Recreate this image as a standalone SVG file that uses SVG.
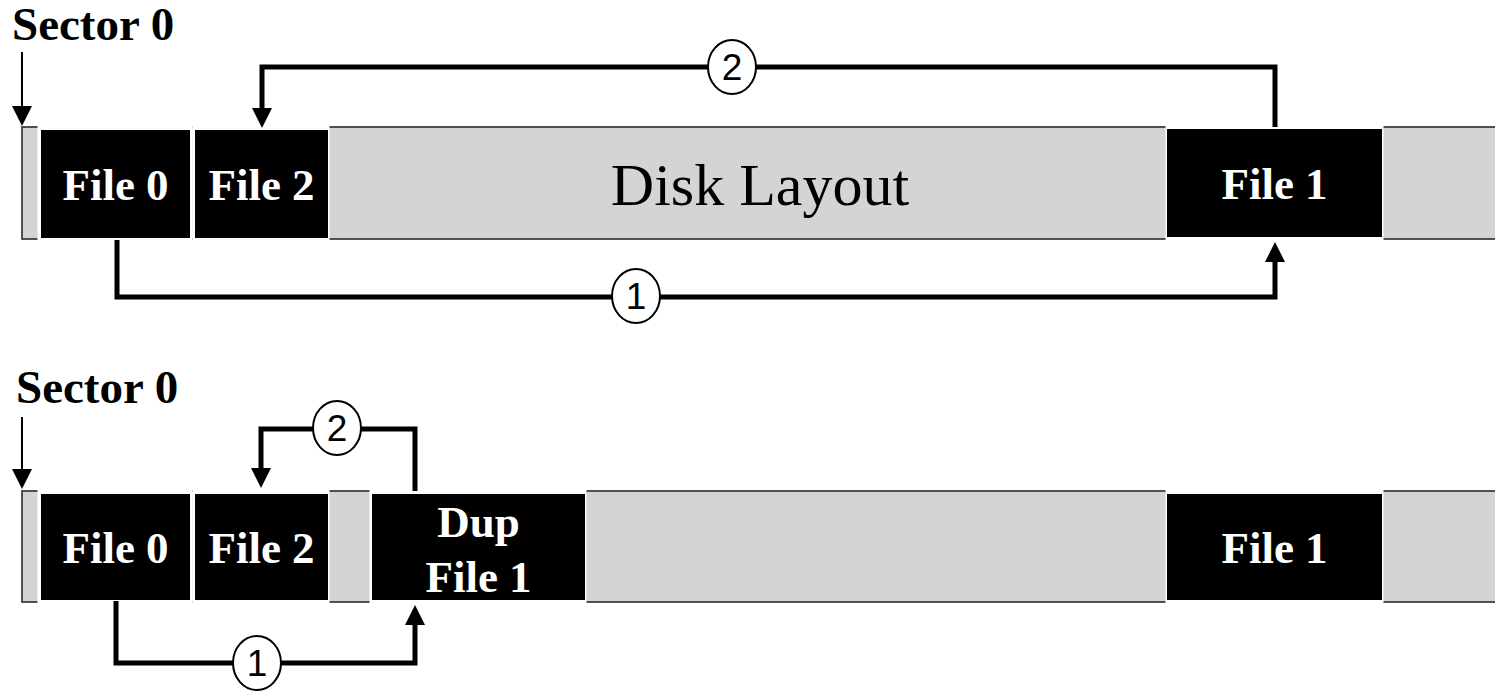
<svg xmlns="http://www.w3.org/2000/svg" width="1495" height="693" viewBox="0 0 1495 693">
<style>
.band{fill:#d4d4d4;stroke:#2a2a2a;stroke-width:1.6}
.gap{fill:#fff}
.blk{fill:#000}
.ft{font-family:"Liberation Serif","Times New Roman",serif;font-weight:bold;font-size:45px;fill:#fff;text-anchor:middle}
.sec{font-family:"Liberation Serif","Times New Roman",serif;font-weight:bold;font-size:47px;fill:#000}
.disk{font-family:"Liberation Serif","Times New Roman",serif;font-size:60px;fill:#000;text-anchor:middle}
.conn{fill:none;stroke:#000;stroke-width:5}
.thin{fill:none;stroke:#000;stroke-width:2}
.circ{fill:#fff;stroke:#000;stroke-width:2}
.num{font-family:"Liberation Sans",Arial,sans-serif;font-size:37px;fill:#000;text-anchor:middle}
</style>
<defs>
<marker id="ah" markerUnits="userSpaceOnUse" markerWidth="20" markerHeight="20" viewBox="0 0 20 20" refX="1" refY="10" orient="auto">
<path d="M0,0 L20,10 L0,20 z" fill="#000"/>
</marker>
</defs>
<rect fill="#fff" x="0" y="0" width="1495" height="693"/>

<g id="top-band"><rect class="band" x="22" y="127" width="1480" height="112"/></g>
<g id="bottom-band"><rect class="band" x="22" y="491" width="1480" height="111"/></g>

<g id="top-file0"><rect class="gap" x="37.5" y="125" width="155" height="117"/><rect class="blk" x="41" y="130" width="149" height="108"/><text class="ft" x="115.5" y="200">File 0</text></g>
<g id="top-file2"><rect class="gap" x="192.5" y="125" width="137" height="117"/><rect class="blk" x="195" y="130" width="133" height="108"/><text class="ft" x="261.5" y="200">File 2</text></g>
<g id="top-file1"><rect class="gap" x="1165.5" y="125" width="218" height="117"/><rect class="blk" x="1167" y="129" width="215" height="108"/><text class="ft" x="1274.5" y="199">File 1</text></g>
<g id="disk-layout"><text class="disk" x="760" y="205">Disk Layout</text></g>

<g id="bot-file0"><rect class="gap" x="37.5" y="489" width="155" height="116"/><rect class="blk" x="41" y="494" width="149" height="106"/><text class="ft" x="115.5" y="563">File 0</text></g>
<g id="bot-file2"><rect class="gap" x="192.5" y="489" width="137" height="116"/><rect class="blk" x="195" y="494" width="133" height="106"/><text class="ft" x="261.5" y="563">File 2</text></g>
<g id="bot-dup"><rect class="gap" x="369.5" y="489" width="217" height="116"/><rect class="blk" x="372" y="494" width="213" height="106"/><text class="ft" x="478.5" y="537">Dup</text><text class="ft" x="478.5" y="592">File 1</text></g>
<g id="bot-file1"><rect class="gap" x="1165.5" y="489" width="218" height="116"/><rect class="blk" x="1167" y="494" width="215" height="106"/><text class="ft" x="1274.5" y="563">File 1</text></g>

<g id="sector-top"><text class="sec" x="12" y="40">Sector 0</text></g>
<g id="sector-bottom"><text class="sec" x="16" y="403">Sector 0</text></g>

<g id="connectors">
<path class="thin" d="M22,52 V107" marker-end="url(#ah)"/>
<path class="thin" d="M22,417 V470" marker-end="url(#ah)"/>
<path class="conn" d="M1275,127 V67 H262 V109" marker-end="url(#ah)"/>
<path class="conn" d="M117,240 V297 H1275 V261" marker-end="url(#ah)"/>
<path class="conn" d="M415,491 V429 H261 V469" marker-end="url(#ah)"/>
<path class="conn" d="M116,601 V663 H415 V624" marker-end="url(#ah)"/>
<g id="label-top-2"><ellipse class="circ" cx="732" cy="67" rx="24" ry="27"/><text class="num" x="732" y="80">2</text></g>
<g id="label-top-1"><ellipse class="circ" cx="636" cy="296" rx="24" ry="27"/><text class="num" x="636" y="309">1</text></g>
<g id="label-bot-2"><ellipse class="circ" cx="337" cy="428" rx="24" ry="27"/><text class="num" x="337" y="441">2</text></g>
<g id="label-bot-1"><ellipse class="circ" cx="257" cy="663" rx="24" ry="27"/><text class="num" x="257" y="676">1</text></g>
</g>
</svg>
